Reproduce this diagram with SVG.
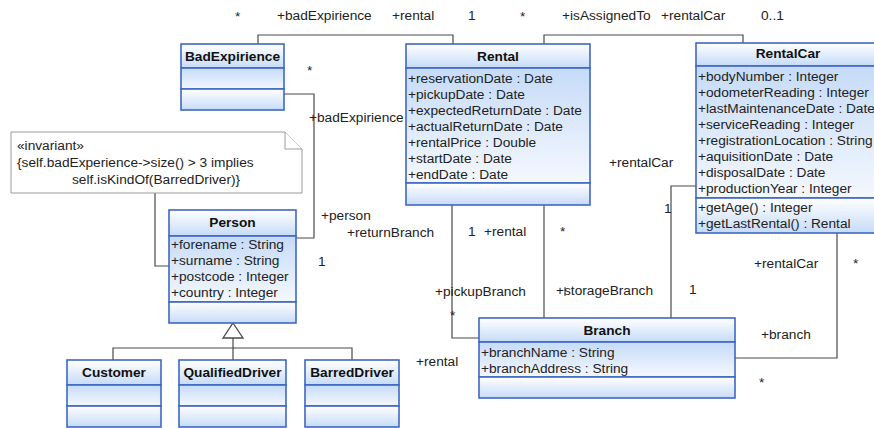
<svg xmlns="http://www.w3.org/2000/svg" width="874" height="428" viewBox="0 0 874 428">
  <defs>
    <linearGradient id="gDown" x1="0" y1="0" x2="0" y2="1">
      <stop offset="0" stop-color="#ffffff"/>
      <stop offset="1" stop-color="#c6dbf8"/>
    </linearGradient>
    <linearGradient id="gUp" x1="0" y1="0" x2="0" y2="1">
      <stop offset="0" stop-color="#c6dbf8"/>
      <stop offset="1" stop-color="#f4f8fe"/>
    </linearGradient>
  </defs>
  <style>
    text { font-family: "Liberation Sans", Arial, sans-serif; font-size: 13.7px; fill: #222; }
    .title { font-weight: bold; text-anchor: middle; fill: #111; }
    .hd { fill: url(#gDown); stroke: #3f68c2; stroke-width: 1.6; }
    .at { fill: url(#gUp); stroke: #3f68c2; stroke-width: 1.6; }
    .op { fill: url(#gDown); stroke: #3f68c2; stroke-width: 1.6; }
    .wire { fill: none; stroke: #4a4a4a; stroke-width: 1.2; }
    .note { fill: #ffffff; stroke: #9a9a9a; stroke-width: 1; }
  </style>
  <rect width="874" height="428" fill="#ffffff"/>

  <!-- associations and generalization -->
  <g id="connectors">
    <path class="wire" d="M258,44 V35 H453 V44"/>
    <path class="wire" d="M544,44 V35 H743 V43"/>
    <path class="wire" d="M284,94 H314 V238 H296"/>
    <path class="wire" d="M155,193 V266 H169"/>
    <path class="wire" d="M452,205 V338 H479"/>
    <path class="wire" d="M544,205 V318"/>
    <path class="wire" d="M696,186 H671 V318"/>
    <path class="wire" d="M837,233 V358 H735"/>
    <path class="wire" d="M233,338 V360 M113,360 V348 H352 V360"/>
    <polygon points="233,323 243,338 223,338" fill="#ffffff" stroke="#4a4a4a" stroke-width="1.3"/>
    <line x1="565" y1="287" x2="565" y2="296" stroke="#333" stroke-width="1"/>
  </g>

  <!-- role names and multiplicities -->
  <g id="labels">
    <text x="235" y="21">*</text>
    <text x="277" y="20">+badExpirience</text>
    <text x="392" y="20">+rental</text>
    <text x="468" y="20">1</text>
    <text x="520" y="21">*</text>
    <text x="562" y="20">+isAssignedTo</text>
    <text x="661" y="20">+rentalCar</text>
    <text x="761" y="20">0..1</text>
    <text x="307" y="75">*</text>
    <text x="309" y="122">+badExpirience</text>
    <text x="609" y="167">+rentalCar</text>
    <text x="664" y="213">1</text>
    <text x="321" y="220">+person</text>
    <text x="347" y="237">+returnBranch</text>
    <text x="318" y="266">1</text>
    <text x="468" y="236">1</text>
    <text x="484" y="236">+rental</text>
    <text x="560" y="236">*</text>
    <text x="754" y="268">+rentalCar</text>
    <text x="853" y="268">*</text>
    <text x="435" y="296">+pickupBranch</text>
    <text x="450" y="320">*</text>
    <text x="556" y="295">+storageBranch</text>
    <text x="689" y="294">1</text>
    <text x="761" y="339">+branch</text>
    <text x="416" y="366">+rental</text>
    <text x="759" y="387">*</text>
  </g>

  <!-- OCL constraint note -->
  <g id="note-invariant">
    <path class="note" d="M11,132 H285 L302,149 V193 H11 Z"/>
    <path class="note" d="M285,132 V149 H302" fill="none"/>
    <text x="17" y="150">«invariant»</text>
    <text x="17" y="167">{self.badExperience-&gt;size() &gt; 3 implies</text>
    <text x="72" y="184">self.isKindOf(BarredDriver)}</text>
  </g>

  <g id="BadExpirience">
    <rect class="hd" x="181" y="44" width="103" height="24"/>
    <rect class="at" x="181" y="68" width="103" height="21"/>
    <rect class="op" x="181" y="89" width="103" height="21"/>
    <text class="title" x="232.5" y="61">BadExpirience</text>
  </g>

  <g id="Rental">
    <rect class="hd" x="406" y="44" width="184" height="24"/>
    <rect class="at" x="406" y="68" width="184" height="115"/>
    <rect class="op" x="406" y="183" width="184" height="22"/>
    <text class="title" x="498" y="61">Rental</text>
    <text x="408" y="82.5">+reservationDate : Date</text>
    <text x="408" y="98.5">+pickupDate : Date</text>
    <text x="408" y="114.5">+expectedReturnDate : Date</text>
    <text x="408" y="130.5">+actualReturnDate : Date</text>
    <text x="408" y="146.5">+rentalPrice : Double</text>
    <text x="408" y="162.5">+startDate : Date</text>
    <text x="408" y="178.5">+endDate : Date</text>
  </g>

  <g id="RentalCar">
    <rect class="hd" x="696" y="43" width="184" height="23"/>
    <rect class="at" x="696" y="66" width="184" height="132"/>
    <rect class="op" x="696" y="198" width="184" height="35"/>
    <text class="title" x="788" y="58">RentalCar</text>
    <text x="698" y="81">+bodyNumber : Integer</text>
    <text x="698" y="97">+odometerReading : Integer</text>
    <text x="698" y="113">+lastMaintenanceDate : Date</text>
    <text x="698" y="129">+serviceReading : Integer</text>
    <text x="698" y="145">+registrationLocation : String</text>
    <text x="698" y="161">+aquisitionDate : Date</text>
    <text x="698" y="177">+disposalDate : Date</text>
    <text x="698" y="193">+productionYear : Integer</text>
    <text x="698" y="212">+getAge() : Integer</text>
    <text x="698" y="228">+getLastRental() : Rental</text>
  </g>

  <g id="Person">
    <rect class="hd" x="169" y="210" width="127" height="26"/>
    <rect class="at" x="169" y="236" width="127" height="66"/>
    <rect class="op" x="169" y="302" width="127" height="21"/>
    <text class="title" x="232.5" y="227">Person</text>
    <text x="171" y="249">+forename : String</text>
    <text x="171" y="265">+surname : String</text>
    <text x="171" y="281">+postcode : Integer</text>
    <text x="171" y="297">+country : Integer</text>
  </g>

  <g id="Customer">
    <rect class="hd" x="67" y="360" width="94" height="25"/>
    <rect class="at" x="67" y="385" width="94" height="21"/>
    <rect class="op" x="67" y="406" width="94" height="21"/>
    <text class="title" x="114" y="377">Customer</text>
  </g>

  <g id="QualifiedDriver">
    <rect class="hd" x="179" y="360" width="107" height="25"/>
    <rect class="at" x="179" y="385" width="107" height="21"/>
    <rect class="op" x="179" y="406" width="107" height="21"/>
    <text class="title" x="232.5" y="377">QualifiedDriver</text>
  </g>

  <g id="BarredDriver">
    <rect class="hd" x="305" y="360" width="94" height="25"/>
    <rect class="at" x="305" y="385" width="94" height="21"/>
    <rect class="op" x="305" y="406" width="94" height="21"/>
    <text class="title" x="352" y="377">BarredDriver</text>
  </g>

  <g id="Branch">
    <rect class="hd" x="479" y="318" width="256" height="24"/>
    <rect class="at" x="479" y="342" width="256" height="35"/>
    <rect class="op" x="479" y="377" width="256" height="21"/>
    <text class="title" x="607" y="335">Branch</text>
    <text x="481" y="357">+branchName : String</text>
    <text x="481" y="373">+branchAddress : String</text>
  </g>
</svg>
